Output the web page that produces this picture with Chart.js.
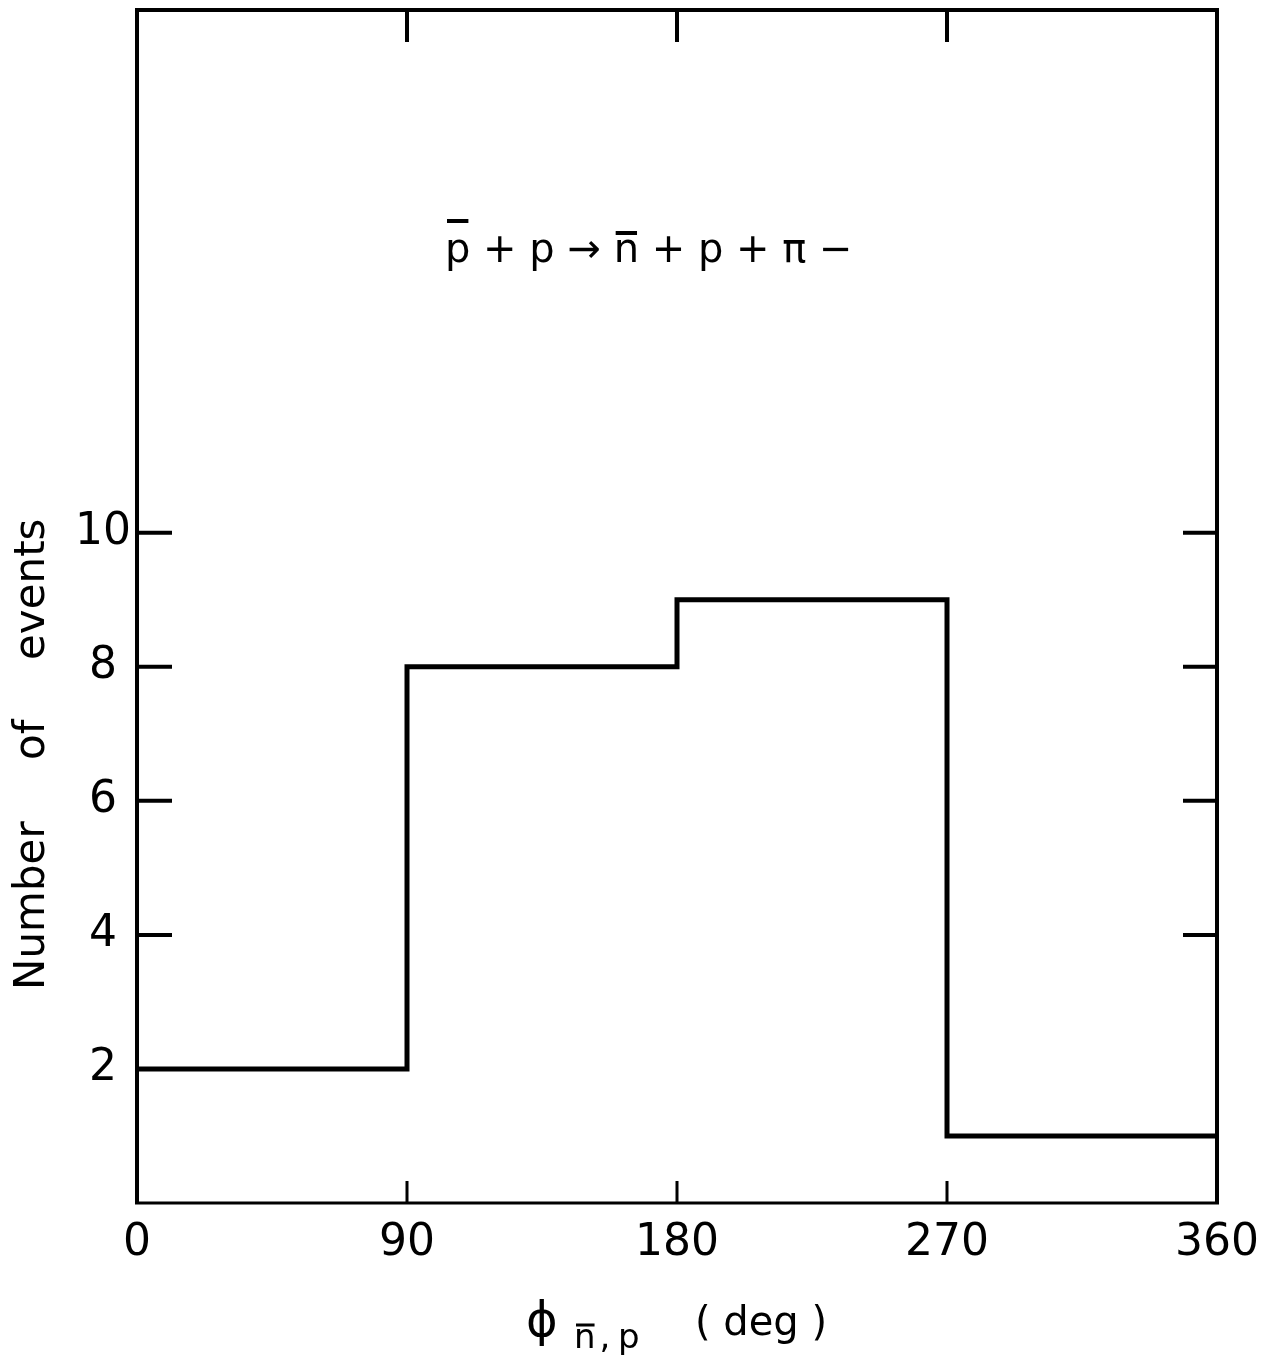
<!DOCTYPE html>
<html>
<head>
<meta charset="utf-8">
<script src="https://cdn.jsdelivr.net/npm/chart.js@4.4.1/dist/chart.umd.min.js"></script>
<style>
  html, body { margin: 0; padding: 0; background: #ffffff; }
  #wrap { width: 1265px; height: 1367px; }
</style>
</head>
<body>
<div id="wrap"><canvas id="c" width="1265" height="1367"></canvas></div>
<script>
// Histogram of the azimuthal angle between antineutron and proton
const binEdges = [0, 90, 180, 270, 360];
const eventCounts = [2, 8, 9, 1];

// Axis ticks
const xTickValues = [0, 90, 180, 270, 360];
const yTickValues = [2, 4, 6, 8, 10];
const topTickValues = [90, 180, 270];
const bottomTickValues = [90, 180, 270];
const leftTickValues = [2, 4, 6, 8, 10];
const rightTickValues = [4, 6, 8, 10];

const FONT = '"DejaVu Sans", sans-serif';
const INK = '#000000';

// Step outline: each edge carries the count of the bin that starts there,
// the closing edge repeats the last bin's count.
const stepPoints = binEdges.map((edge, i) => ({
  x: edge,
  y: eventCounts[Math.min(i, eventCounts.length - 1)]
}));

// keep the plot box where the layout puts it, ignoring label overhang
function zeroPadding(s) {
  s.paddingTop = 0; s.paddingBottom = 0; s.paddingLeft = 0; s.paddingRight = 0;
}

const frameAndLabels = {
  id: 'frameAndLabels',
  afterDatasetsDraw(chart) {
    const { ctx, chartArea: a, scales } = chart;
    const xs = scales.x, ys = scales.y;
    ctx.save();
    ctx.strokeStyle = INK;
    ctx.lineCap = 'butt';

    // frame
    ctx.lineWidth = 4;
    ctx.beginPath();
    ctx.moveTo(a.left, a.bottom);
    ctx.lineTo(a.left, a.top);
    ctx.lineTo(a.right, a.top);
    ctx.lineTo(a.right, a.bottom);
    ctx.stroke();
    ctx.lineWidth = 3;
    ctx.beginPath();
    ctx.moveTo(a.left - 2, a.bottom);
    ctx.lineTo(a.right + 2, a.bottom);
    ctx.stroke();

    // inward ticks
    ctx.lineWidth = 4;
    ctx.beginPath();
    topTickValues.forEach(v => {
      const px = xs.getPixelForValue(v);
      ctx.moveTo(px, a.top);
      ctx.lineTo(px, a.top + 32);
    });
    leftTickValues.forEach(v => {
      const py = ys.getPixelForValue(v);
      ctx.moveTo(a.left, py);
      ctx.lineTo(a.left + 35, py);
    });
    rightTickValues.forEach(v => {
      const py = ys.getPixelForValue(v);
      ctx.moveTo(a.right, py);
      ctx.lineTo(a.right - 34, py);
    });
    ctx.stroke();
    ctx.lineWidth = 3;
    ctx.beginPath();
    bottomTickValues.forEach(v => {
      const px = xs.getPixelForValue(v);
      ctx.moveTo(px, a.bottom);
      ctx.lineTo(px, a.bottom - 22);
    });
    ctx.stroke();
    ctx.restore();
  },
  afterDraw(chart) {
    const { ctx } = chart;
    ctx.save();
    ctx.fillStyle = INK;
    ctx.strokeStyle = INK;
    ctx.textBaseline = 'alphabetic';
    ctx.textAlign = 'left';

    // reaction label
    const reaction = 'p + p \u2192 n + p + \u03c0 \u2212';
    ctx.font = '40px ' + FONT;
    const rx = 445, ry = 262;
    ctx.fillText(reaction, rx, ry);
    ctx.lineWidth = 4;
    const pW = ctx.measureText('p').width;
    const nStart = ctx.measureText('p + p \u2192 ').width;
    const nW = ctx.measureText('n').width;
    ctx.beginPath();
    ctx.moveTo(rx + 2, 221); ctx.lineTo(rx + pW - 2, 221);
    ctx.moveTo(rx + nStart + 2, 233); ctx.lineTo(rx + nStart + nW - 2, 233);
    ctx.stroke();

    // y-axis title
    ctx.save();
    ctx.rotate(-Math.PI / 2);
    ctx.font = '42px ' + FONT;
    ctx.fillText('Number', -990, 44);
    ctx.fillText('of', -760, 44);
    ctx.fillText('events', -660, 44);
    ctx.restore();

    // x-axis title
    ctx.font = '48px ' + FONT;
    ctx.fillText('\u03d5', 526, 1336);
    ctx.font = '34px ' + FONT;
    ctx.fillText('n', 574, 1348);
    const nw2 = ctx.measureText('n').width;
    ctx.fillText(',', 574 + nw2 + 4, 1348);
    ctx.fillText('p', 618, 1348);
    ctx.lineWidth = 3;
    ctx.beginPath();
    ctx.moveTo(576, 1325); ctx.lineTo(574 + nw2 - 1, 1325);
    ctx.stroke();
    ctx.font = '40px ' + FONT;
    ctx.fillText('( deg )', 695, 1335);
    ctx.restore();
  }
};

new Chart(document.getElementById('c'), {
  type: 'line',
  data: {
    datasets: [{
      data: stepPoints,
      stepped: 'before',
      borderColor: INK,
      borderWidth: 5,
      borderJoinStyle: 'miter',
      pointRadius: 0,
      fill: false,
      clip: false
    }]
  },
  options: {
    responsive: false,
    animation: false,
    devicePixelRatio: 1,
    layout: { padding: { top: 10, right: 48, left: 0, bottom: 0 } },
    plugins: { legend: { display: false }, tooltip: { enabled: false }, title: { display: false } },
    scales: {
      x: {
        type: 'linear',
        min: 0, max: 360,
        afterBuildTicks: s => { s.ticks = xTickValues.map(v => ({ value: v })); },
        afterFit: s => { s.height = 164; zeroPadding(s); },
        grid: { display: false, drawTicks: false },
        border: { display: false },
        ticks: {
          color: INK, font: { family: FONT, size: 44 },
          padding: 14, maxRotation: 0, autoSkip: false
        }
      },
      y: {
        type: 'linear',
        min: 0, max: 17.8,
        afterBuildTicks: s => { s.ticks = yTickValues.map(v => ({ value: v })); },
        afterFit: s => { s.width = 137; zeroPadding(s); },
        grid: { display: false, drawTicks: false },
        border: { display: false },
        ticks: {
          color: INK, font: { family: FONT, size: 44 },
          padding: 6, crossAlign: 'center', autoSkip: false
        }
      }
    }
  },
  plugins: [frameAndLabels]
});
</script>
</body>
</html>
